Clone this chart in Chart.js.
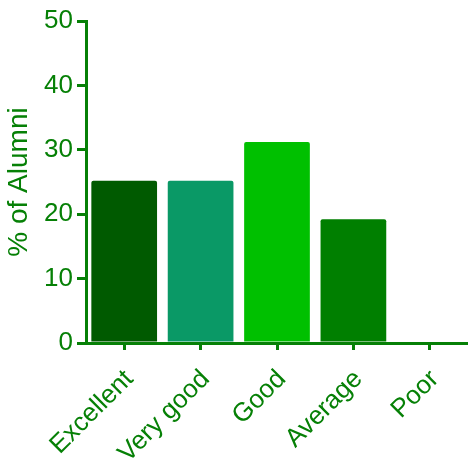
<!DOCTYPE html>
<html>
<head>
<meta charset="utf-8">
<script src="https://cdn.jsdelivr.net/npm/chart.js@4/dist/chart.umd.min.js"></script>
<style>
html,body{margin:0;padding:0;background:#fff;}
#wrap{width:468px;height:464px;position:relative;}
</style>
</head>
<body>
<div id="wrap"><canvas id="c" width="468" height="464"></canvas></div>
<script>
const categories = ["Excellent", "Very good", "Good", "Average", "Poor"];
const percentAlumni = [25.2, 25.2, 31.2, 19.2, 0];
const barColors = ["#005a00", "#0a9966", "#00c000", "#007f00", "#007f00"];
const yTicks = [0, 10, 20, 30, 40, 50];
const yTitle = "% of Alumni";

const GREEN = "#068006";
const FONT = "'Liberation Sans', Arial, sans-serif";

new Chart(document.getElementById('c'), {
  type: 'bar',
  data: {
    labels: categories,
    datasets: [{
      data: percentAlumni,
      backgroundColor: barColors,
      borderColor: barColors,
      borderWidth: 0,
      borderRadius: 2,
      borderSkipped: 'bottom',
      categoryPercentage: 1,
      barPercentage: 0.86
    }]
  },
  options: {
    responsive: false,
    animation: false,
    layout: { padding: { top: 21, right: 0, left: 0, bottom: 0 } },
    plugins: { legend: { display: false }, tooltip: { enabled: false } },
    scales: {
      x: {
        offset: true,
        border: { display: true, color: GREEN, width: 3 },
        grid: { display: true, drawOnChartArea: false, drawTicks: true, tickLength: 7, color: GREEN, lineWidth: 3, offset: false },
        ticks: {
          color: GREEN,
          font: { family: FONT, size: 26 },
          maxRotation: 45, minRotation: 45,
          padding: 14,
          labelOffset: 5
        },
        afterFit: (s) => { s.height = 121; }
      },
      y: {
        min: 0, max: 50,
        afterBuildTicks: (s) => { s.ticks = yTicks.map(v => ({ value: v })); },
        border: { display: true, color: GREEN, width: 3 },
        grid: { display: true, drawOnChartArea: false, drawTicks: true, tickLength: 9, color: GREEN, lineWidth: 3 },
        ticks: {
          color: GREEN,
          font: { family: FONT, size: 26 },
          padding: 4
        },
        title: {
          display: true,
          text: yTitle,
          color: GREEN,
          font: { family: FONT, size: 28 },
          padding: { top: 2, bottom: 0 }
        },
        afterFit: (s) => { s.width = 86; }
      }
    }
  }
});
</script>
</body>
</html>
